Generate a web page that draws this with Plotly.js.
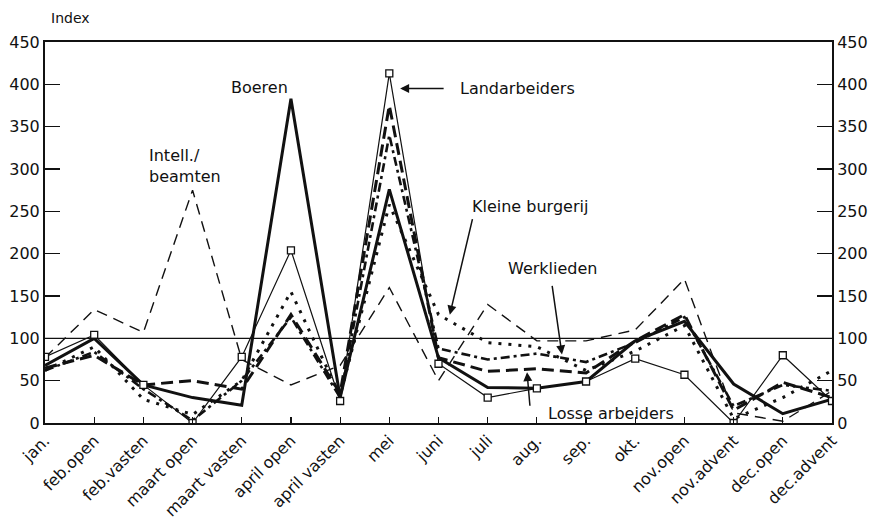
<!DOCTYPE html>
<html>
<head>
<meta charset="utf-8">
<script src="https://cdn.plot.ly/plotly-3.0.1.min.js"></script>
<style>html,body{margin:0;padding:0;background:#fff}#chart{width:879px;height:520px}</style>
</head>
<body>
<div id="chart"></div>
<script>
var categories = ["jan.", "feb.open", "feb.vasten", "maart open", "maart vasten", "april open", "april vasten", "mei", "juni", "juli", "aug.", "sep.", "okt.", "nov.open", "nov.advent", "dec.open", "dec.advent"];

var boeren          = [68, 100, 45, 30, 21, 383, 30, 276, 77, 42, 41, 49, 97, 120, 46, 11, 28];
var landarbeiders   = [78, 104, 45, 0, 78, 204, 26, 413, 70, 30, 41, 49, 76, 57, 0, 80, 26];
var losseArbeiders  = [65, 80, 45, 50, 40, 128, 35, 375, 77, 61, 64, 59, 97, 128, 15, 48, 30];
var intellBeamten   = [77, 134, 107, 275, 75, 45, 68, 160, 50, 140, 97, 97, 110, 170, 12, 2, 38];
var kleineBurgerij  = [62, 90, 28, 10, 50, 155, 32, 258, 128, 95, 90, 62, 85, 115, 5, 30, 62];
var werklieden      = [62, 84, 40, 3, 50, 125, 30, 340, 88, 75, 82, 72, 95, 125, 20, 45, 38];

var referenceIndex = 100;
var yTicks = [0, 50, 100, 150, 200, 250, 300, 350, 400, 450];

var FONT = "DejaVu Sans, sans-serif";

function tr(y, line, extra) {
  var t = {x: categories, y: y, type: "scatter", mode: "lines", line: line, showlegend: false, hoverinfo: "skip"};
  if (extra) for (var k in extra) t[k] = extra[k];
  return t;
}

var traces = [
  tr(intellBeamten, {color: "#111", width: 1.4, dash: "11px,7px"}),
  tr(kleineBurgerij, {color: "#111", width: 3, dash: "3px,7px"}),
  tr(werklieden, {color: "#111", width: 2.6, dash: "9px,4px,3px,4px"}),
  tr(losseArbeiders, {color: "#111", width: 3, dash: "12px,6px"}),
  tr(boeren, {color: "#111", width: 3}),
  tr(landarbeiders, {color: "#111", width: 1.2}, {mode: "lines+markers", marker: {symbol: "square", size: 7, color: "white", line: {color: "#111", width: 1.3}}}),
  tr(boeren, {color: "rgba(0,0,0,0)", width: 0}, {yaxis: "y2"})
];

var axisY = {
  range: [0, 450], tickvals: yTicks, ticktext: yTicks.map(String),
  ticks: "inside", ticklen: 15, tickwidth: 1.5, tickcolor: "#111",
  showline: true, linewidth: 2, linecolor: "#111",
  showgrid: false, zeroline: false, fixedrange: true,
  tickfont: {family: FONT, size: 16, color: "#111"}
};
var axisY2 = JSON.parse(JSON.stringify(axisY));
axisY2.overlaying = "y";
axisY2.side = "right";

function arrow(x, y, ax, ay) {
  return {x: x, y: y, xref: "x", yref: "y", ax: ax, ay: ay, text: "", showarrow: true,
          arrowhead: 2, arrowsize: 1.2, arrowwidth: 1.5, arrowcolor: "#111"};
}
function label(x, y, text, extra) {
  var a = {x: x, y: y, xref: "x", yref: "y", text: text, showarrow: false,
           xanchor: "center", yanchor: "middle",
           font: {family: FONT, size: 16, color: "#111"}};
  if (extra) for (var k in extra) a[k] = extra[k];
  return a;
}

var layout = {
  width: 879, height: 520,
  margin: {l: 45, r: 47, t: 42, b: 97, pad: 0},
  paper_bgcolor: "white", plot_bgcolor: "white",
  xaxis: {
    type: "category", range: [0, 16],
    ticks: "inside", ticklen: 6, tickwidth: 1.2, tickcolor: "#111",
    tickangle: -45, showline: true, mirror: true, linewidth: 2, linecolor: "#111",
    showgrid: false, zeroline: false, fixedrange: true,
    tickfont: {family: FONT, size: 16, color: "#111"}
  },
  yaxis: axisY,
  yaxis2: axisY2,
  shapes: [{type: "line", xref: "paper", x0: 0, x1: 1, yref: "y", y0: referenceIndex, y1: referenceIndex,
            line: {color: "#111", width: 1.3}}],
  annotations: [
    {xref: "paper", yref: "paper", x: 0.033, y: 1.063, xanchor: "center", yanchor: "middle",
     text: "Index", showarrow: false, font: {family: FONT, size: 14, color: "#111"}},
    label(4.37, 396, "Boeren"),
    label(2.07, 304, "Intell./<br>beamten", {xanchor: "left", align: "left"}),
    label(9.6, 395, "Landarbeiders"),
    label(9.86, 256, "Kleine burgerij"),
    label(10.31, 183, "Werklieden"),
    label(11.5, 11, "Losse arbeiders"),
    arrow(7.22, 395, 45, 0),
    arrow(8.23, 128, 23, -97),
    arrow(10.51, 81, -10, -70),
    arrow(9.8, 60, 3, 35)
  ]
};

Plotly.newPlot("chart", traces, layout, {staticPlot: true});
</script>
</body>
</html>
